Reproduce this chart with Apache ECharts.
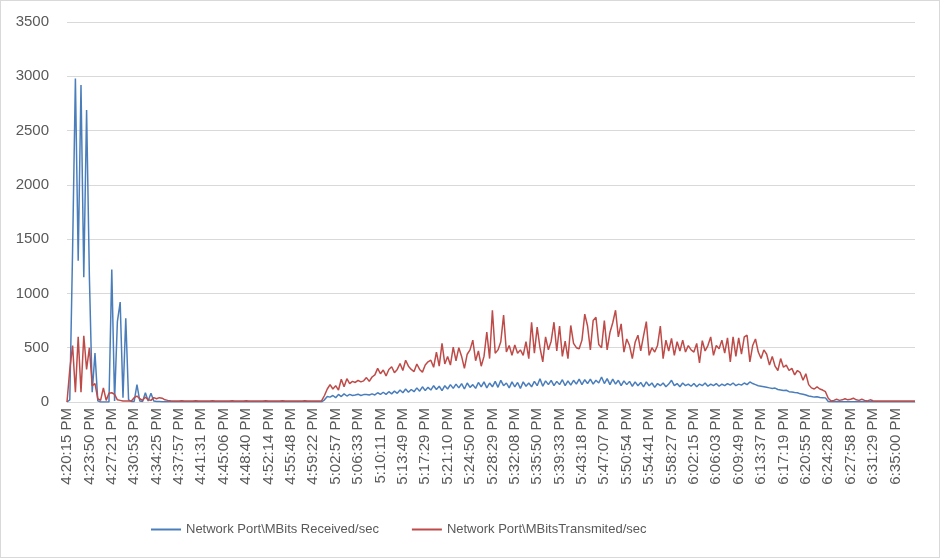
<!DOCTYPE html>
<html>
<head>
<meta charset="utf-8">
<script src="https://cdn.jsdelivr.net/npm/echarts@6/dist/echarts.min.js"></script>
<style>
html,body{margin:0;padding:0;background:#fff;}
#chart{position:absolute;left:0;top:0;width:940px;height:558px;}
#frame{position:absolute;left:0;top:0;width:940px;height:558px;box-sizing:border-box;border:1px solid #d9d9d9;pointer-events:none;}
</style>
</head>
<body>
<div id="chart"></div>
<div id="frame"></div>
<script>
var tickLabels = ["4:20:15 PM","4:23:50 PM","4:27:21 PM","4:30:53 PM","4:34:25 PM","4:37:57 PM","4:41:31 PM","4:45:06 PM","4:48:40 PM","4:52:14 PM","4:55:48 PM","4:59:22 PM","5:02:57 PM","5:06:33 PM","5:10:11 PM","5:13:49 PM","5:17:29 PM","5:21:10 PM","5:24:50 PM","5:28:29 PM","5:32:08 PM","5:35:50 PM","5:39:33 PM","5:43:18 PM","5:47:07 PM","5:50:54 PM","5:54:41 PM","5:58:27 PM","6:02:15 PM","6:06:03 PM","6:09:49 PM","6:13:37 PM","6:17:19 PM","6:20:55 PM","6:24:28 PM","6:27:58 PM","6:31:29 PM","6:35:00 PM"];

var seriesNames = ["Network Port\\MBits Received/sec", "Network Port\\MBitsTransmited/sec"];

var received = [
0,20,1400,2980,1300,2920,1150,2690,1150,90,
450,10,0,0,0,0,1220,10,740,920,
40,770,20,5,5,160,10,5,85,10,
80,10,5,5,3,3,3,2,2,2,
2,2,2,2,2,2,2,2,2,2,
2,2,2,2,2,2,2,2,2,2,
2,2,2,2,2,2,2,2,2,2,
2,2,2,2,2,2,2,2,2,2,
2,2,2,2,2,2,2,2,2,2,
2,2,20,50,45,60,40,70,50,75,
55,70,60,65,72,60,68,70,64,75,
65,85,70,90,70,95,75,100,80,110,
85,120,90,115,95,130,100,140,105,135,
110,150,115,145,105,150,120,160,125,165,
130,170,120,175,135,160,125,180,140,185,
130,175,140,190,135,200,150,175,130,185,
140,180,125,185,145,175,140,190,150,215,
145,195,160,200,150,190,160,205,150,195,
155,200,165,210,160,205,170,210,165,200,
175,230,170,215,160,210,165,200,150,195,
160,190,145,185,150,180,140,185,150,175,
135,170,150,175,140,165,200,150,170,140,
175,150,165,145,170,140,165,150,175,145,
165,150,170,145,165,150,170,155,175,150,
165,155,175,160,185,170,160,150,145,140,
135,130,125,128,115,110,105,108,95,92,
88,85,75,72,65,55,50,45,48,42,
40,38,5,2,2,2,2,2,2,2,
2,2,2,2,2,2,2,2,2,2,
2,2,2,2,2,2,2,2,2,2,
2,2,2,2
];

var transmitted = [
0,300,520,90,600,90,610,300,500,150,
170,30,15,130,15,80,85,70,20,15,
10,10,10,10,40,55,30,15,45,20,
15,40,30,40,35,20,15,12,10,10,
10,11,10,10,9,10,11,10,10,10,
10,10,11,10,10,10,9,10,10,11,
10,10,10,10,11,10,10,9,10,10,
10,11,10,10,10,10,10,11,10,10,
10,10,9,10,10,11,10,10,10,10,
10,12,60,120,160,120,150,110,210,140,
215,170,190,180,200,185,195,225,190,230,
250,310,260,295,240,300,325,270,300,355,
290,385,330,300,280,350,300,275,340,370,
385,320,460,330,540,350,420,340,505,380,
500,420,310,440,480,570,380,470,330,420,
645,400,845,450,480,555,800,460,520,430,
525,450,480,430,555,400,735,450,690,500,
370,600,480,560,735,470,700,420,560,400,
705,540,500,490,570,810,700,480,750,780,
530,500,750,480,640,730,845,600,720,460,
580,520,400,550,615,470,610,740,430,500,
460,520,700,400,570,470,585,430,555,470,
570,460,520,480,460,540,360,565,470,520,
600,430,520,490,570,450,590,370,600,420,
590,440,600,615,370,520,580,460,400,480,
440,340,420,330,290,400,320,340,290,310,
250,290,270,200,260,160,130,120,140,120,
110,95,35,10,15,25,15,20,30,20,
25,35,20,15,25,15,10,20,12,10,
10,10,9,10,10,10,9,10,10,10,
10,10,10,10
];

var perTick = 8;

function toSec(s){
  var m = s.match(/(\d+):(\d+):(\d+)\s*(AM|PM)/);
  var h = +m[1]; if (m[4]==="PM" && h<12) h += 12;
  return h*3600 + (+m[2])*60 + (+m[3]);
}
function fmt(t){
  t = Math.round(t);
  var h = Math.floor(t/3600), mi = Math.floor((t%3600)/60), se = t%60;
  var ap = h>=12 ? "PM" : "AM"; var hh = h>12 ? h-12 : h;
  return hh + ":" + (mi<10?"0":"") + mi + ":" + (se<10?"0":"") + se + " " + ap;
}
var categories = [];
for (var i = 0; i < received.length; i++) {
  var k = Math.floor(i / perTick), f = i % perTick;
  if (f === 0 && k < tickLabels.length) { categories.push(tickLabels[k]); continue; }
  var a = toSec(tickLabels[Math.min(k, tickLabels.length-1)]);
  var b = k+1 < tickLabels.length ? toSec(tickLabels[k+1]) : a + 211;
  categories.push(fmt(a + (b - a) * f / perTick));
}

var chart = echarts.init(document.getElementById('chart'), null, {renderer:'canvas'});
var txt = '#595959';
var ff = 'Liberation Sans, Arial, sans-serif';
chart.setOption({
  animation: false,
  backgroundColor: '#ffffff',
  textStyle: {fontFamily: ff},
  grid: {left: 67, right: 25, top: 22, bottom: 156, containLabel: false},
  legend: {
    data: seriesNames,
    left: 146, top: 518,
    icon: 'rect', itemWidth: 30, itemHeight: 2, itemGap: 33,
    textStyle: {color: txt, fontSize: 13, fontFamily: ff}
  },
  xAxis: {
    type: 'category',
    data: categories,
    boundaryGap: false,
    axisLine: {show: true, lineStyle: {color: '#d9d9d9', width: 1}},
    axisTick: {show: false},
    axisLabel: {
      interval: function(idx){ return idx % perTick === 0; },
      rotate: 90, margin: 6, color: txt, fontSize: 15, fontFamily: ff
    },
    splitLine: {show: false}
  },
  yAxis: {
    type: 'value', min: 0, max: 3500, interval: 500,
    axisLine: {show: false}, axisTick: {show: false},
    axisLabel: {color: txt, fontSize: 15, margin: 18, fontFamily: ff,
      formatter: function(v){ return String(v); }},
    splitLine: {lineStyle: {color: '#d9d9d9', width: 1}}
  },
  series: [
    {name: seriesNames[0], type: 'line', data: received, showSymbol: false, symbol: 'none',
     lineStyle: {color: '#4a7ebb', width: 1.5}, itemStyle: {color: '#4a7ebb'}},
    {name: seriesNames[1], type: 'line', data: transmitted, showSymbol: false, symbol: 'none',
     lineStyle: {color: '#be4b48', width: 1.5}, itemStyle: {color: '#be4b48'}}
  ]
});
</script>
</body>
</html>
